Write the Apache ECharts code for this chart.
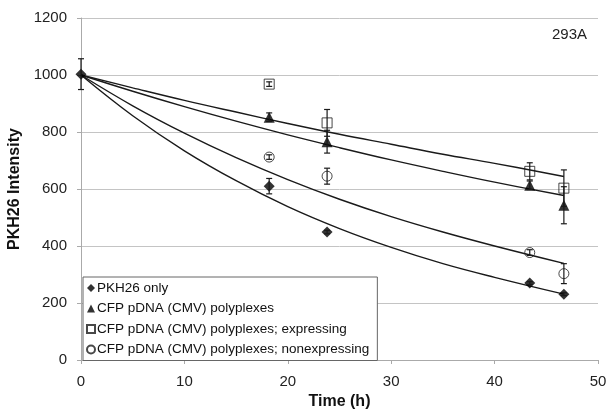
<!DOCTYPE html>
<html>
<head>
<meta charset="utf-8">
<script src="https://cdn.jsdelivr.net/npm/echarts@6/dist/echarts.min.js"></script>
<style>
  html, body { margin: 0; padding: 0; background: #fff; }
  #chart { width: 608px; height: 412px; }
</style>
</head>
<body>
<div id="chart"></div>
<script>
// measured points (time in h) with +/- error; null = no point drawn
const times = [0, 18.2, 23.8, 43.4, 46.7];
const pkhOnly = [1003, 610, 449, 270, 231];
const pkhOnlyErr = [54, 27, 6, 5, 5];
const cfp = [null, 852, 766, 613, 543];
const cfpErr = [0, 15, 40, 15, 65];
const cfpExpr = [null, 968, 832, 662, 603];
const cfpExprErr = [0, 8, 47, 30, 64];
const cfpNonExpr = [null, 712, 645, 377, 303];
const cfpNonExprErr = [0, 8, 28, 10, 35];

// trend curves
const fitTimes = [0, 5, 10, 15, 20, 25, 30, 35, 40, 46.7];
const pkhOnlyFit = [1000, 857, 734, 629, 538, 461, 395, 338, 290, 231];
const cfpFit = [1000, 943, 889, 838, 790, 745, 702, 662, 624, 577];
const cfpExprFit = [1000, 955, 911, 870, 830, 792, 757, 722, 690, 644];
const cfpNonExprFit = [1000, 892, 796, 710, 633, 564, 503, 449, 400, 339];

const names = [
  'PKH26 only',
  'CFP pDNA (CMV) polyplexes',
  'CFP pDNA (CMV) polyplexes; expressing',
  'CFP pDNA (CMV) polyplexes; nonexpressing'
];

const FONT = 'Liberation Sans, Arial, sans-serif';

const pairs = (xs, ys) => xs.map((x, i) => [x, ys[i]]).filter(p => p[1] !== null);
const errData = (ys, es) => times
  .map((t, i) => ys[i] === null ? null : [t, ys[i] - es[i], ys[i] + es[i]])
  .filter(d => d !== null);

const fitLine = (name, ys) => ({
  name: name,
  type: 'line',
  smooth: 0.4,
  showSymbol: false,
  silent: true,
  lineStyle: { color: '#1a1a1a', width: 1.4 },
  data: pairs(fitTimes, ys),
  z: 2
});

const errorBars = (name, ys, es) => ({
  name: name,
  type: 'custom',
  silent: true,
  renderItem: (params, api) => {
    const top = api.coord([api.value(0), api.value(2)]);
    const bot = api.coord([api.value(0), api.value(1)]);
    const cap = 3;
    const style = { stroke: '#1a1a1a', lineWidth: 1.2 };
    return {
      type: 'group',
      children: [
        { type: 'line', shape: { x1: top[0], y1: top[1], x2: bot[0], y2: bot[1] }, style: style },
        { type: 'line', shape: { x1: top[0] - cap, y1: top[1], x2: top[0] + cap, y2: top[1] }, style: style },
        { type: 'line', shape: { x1: bot[0] - cap, y1: bot[1], x2: bot[0] + cap, y2: bot[1] }, style: style }
      ]
    };
  },
  data: errData(ys, es),
  z: 4
});

const points = (name, ys, symbol, size, hollow) => ({
  name: name,
  type: 'scatter',
  symbol: symbol,
  symbolSize: size,
  itemStyle: hollow
    ? { color: 'rgba(255,255,255,0)', borderColor: '#1a1a1a', borderWidth: 1 }
    : { color: '#000' },
  data: pairs(times, ys),
  z: 3
});

const chart = echarts.init(document.getElementById('chart'));

chart.setOption({
  backgroundColor: '#fff',
  animation: false,
  textStyle: { fontFamily: FONT },
  title: {
    text: '293A',
    right: 16,
    top: 22,
    textStyle: { fontFamily: FONT, fontSize: 15, fontWeight: 'normal', color: '#222' }
  },
  grid: { left: 81, right: 10, top: 18, bottom: 52, containLabel: false, outerBoundsMode: 'none' },
  legend: {
    data: names,
    orient: 'vertical',
    left: 83,
    top: 277,
    padding: [4, 8, 4, 3],
    itemGap: 6.5,
    itemWidth: 8,
    itemHeight: 8,
    backgroundColor: '#fff',
    borderColor: '#666',
    borderWidth: 1,
    borderRadius: 0,
    selectedMode: false,
    textStyle: { fontFamily: FONT, fontSize: 13.5, color: '#111', padding: [0, 0, 0, -3] }
  },
  xAxis: {
    type: 'value',
    min: 0,
    max: 50,
    interval: 10,
    name: 'Time (h)',
    nameLocation: 'middle',
    nameGap: 30,
    nameTextStyle: { fontFamily: FONT, fontSize: 16, fontWeight: 'bold', color: '#111' },
    axisLine: { show: true, lineStyle: { color: '#aaa' } },
    axisTick: { show: true, inside: false, length: 4, lineStyle: { color: '#aaa' } },
    axisLabel: { fontFamily: FONT, fontSize: 15, color: '#222', margin: 14 },
    splitLine: { show: false }
  },
  yAxis: {
    type: 'value',
    min: 0,
    max: 1200,
    interval: 200,
    name: 'PKH26 Intensity',
    nameLocation: 'middle',
    nameGap: 56,
    nameTextStyle: { fontFamily: FONT, fontSize: 16, fontWeight: 'bold', color: '#111' },
    axisLine: { show: true, lineStyle: { color: '#aaa' } },
    axisTick: { show: true, length: 4, lineStyle: { color: '#aaa' } },
    axisLabel: { fontFamily: FONT, fontSize: 15, color: '#222', margin: 14, formatter: v => String(v) },
    splitLine: { show: true, lineStyle: { color: '#c4c4c4', width: 1 } }
  },
  series: [
    fitLine('fit-pkh', pkhOnlyFit),
    fitLine('fit-cfp', cfpFit),
    fitLine('fit-expr', cfpExprFit),
    fitLine('fit-nonexpr', cfpNonExprFit),
    points(names[0], pkhOnly, 'diamond', 11, false),
    points(names[1], cfp, 'triangle', 11, false),
    points(names[2], cfpExpr, 'rect', 10, true),
    points(names[3], cfpNonExpr, 'circle', 10, true),
    errorBars('err-pkh', pkhOnly, pkhOnlyErr),
    errorBars('err-cfp', cfp, cfpErr),
    errorBars('err-expr', cfpExpr, cfpExprErr),
    errorBars('err-nonexpr', cfpNonExpr, cfpNonExprErr)
  ]
});
</script>
</body>
</html>
